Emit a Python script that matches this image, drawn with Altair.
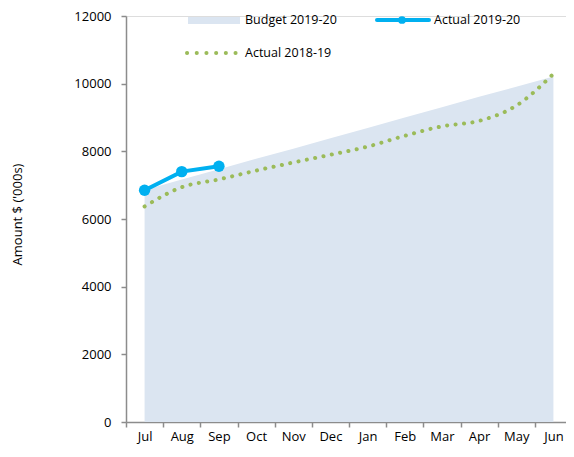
import altair as alt
import pandas as pd

months = ["Jul", "Aug", "Sep", "Oct", "Nov", "Dec", "Jan", "Feb", "Mar", "Apr", "May", "Jun"]
budget_2019_20 = [6860, 7170, 7470, 7780, 8080, 8390, 8690, 9000, 9300, 9610, 9910, 10210]
actual_2018_19 = [6370, 6940, 7170, 7430, 7670, 7900, 8140, 8460, 8740, 8900, 9350, 10290]
actual_2019_20 = [6850, 7400, 7560]
series_names = ["Budget 2019-20", "Actual 2019-20", "Actual 2018-19"]
y_ticks = [0, 2000, 4000, 6000, 8000, 10000, 12000]

FONT = "Open Sans"
W, H = 440, 406
BUDGET_C = "#DBE5F1"
CUR_C = "#00B0F0"
PRIOR_C = "#9BBB59"
AXIS_C = "#8C8C8C"

df = pd.DataFrame({"month": months, "budget": budget_2019_20, "prior": actual_2018_19})
df_cur = pd.DataFrame({"month": months[:len(actual_2019_20)], "actual": actual_2019_20})

x_scale = alt.Scale(type="band", domain=months, range=[0, 446], paddingInner=0, paddingOuter=0)
y_scale = alt.Scale(domain=[0, 12000], nice=False)

axis_common = dict(
    labelFont=FONT, labelFontSize=13, labelColor="#000000",
    domainColor=AXIS_C, domainWidth=1.5, tickColor=AXIS_C, tickWidth=1.5, tickSize=5,
)

x_enc = alt.X(
    "month:N", sort=months, scale=x_scale, bandPosition=0.5,
    axis=alt.Axis(title=None, tickBand="extent", labelAngle=0, labelPadding=3,
                  labelBaseline="top", **axis_common),
)

area = alt.Chart(df).mark_area(color=BUDGET_C, opacity=1).encode(
    x=x_enc,
    y=alt.Y(
        "budget:Q", scale=y_scale,
        axis=alt.Axis(
            values=y_ticks, format="d", grid=False, title="Amount $ ('000s)", labelPadding=10,
            titleAngle=-90, titleX=-109, titleY=198, titleAlign="center",
            titleBaseline="middle", titleFontSize=13, titleFontWeight="normal",
            titleFont=FONT, titleColor="#000000", **axis_common,
        ),
    ),
)

prior = alt.Chart(df).mark_line(
    color=PRIOR_C, strokeWidth=4, strokeDash=[0.1, 8.4], strokeCap="round",
    interpolate="monotone",
).encode(x=x_enc, y=alt.Y("prior:Q", scale=y_scale))

cur_line = alt.Chart(df_cur).mark_line(color=CUR_C, strokeWidth=4).encode(
    x=x_enc, y=alt.Y("actual:Q", scale=y_scale)
)
cur_pts = alt.Chart(df_cur).mark_point(
    filled=True, color=CUR_C, size=130, opacity=1
).encode(x=x_enc, y=alt.Y("actual:Q", scale=y_scale))

one = pd.DataFrame({"k": [0]})
leg_budget_sym = alt.Chart(one).mark_rect(color=BUDGET_C).encode(
    x=alt.value(62), x2=alt.value(114), y=alt.value(1), y2=alt.value(8)
)
leg_cur_line = alt.Chart(one).mark_rule(color=CUR_C, strokeWidth=4, strokeCap="round").encode(
    x=alt.value(251), x2=alt.value(303), y=alt.value(4)
)
leg_cur_pt = alt.Chart(one).mark_point(filled=True, color=CUR_C, size=60, opacity=1).encode(
    x=alt.value(276), y=alt.value(4)
)
leg_prior = alt.Chart(one).mark_rule(
    color=PRIOR_C, strokeWidth=4, strokeDash=[0.1, 9.6], strokeCap="round"
).encode(x=alt.value(61), x2=alt.value(110), y=alt.value(37))

def leg_text(label, px, py):
    return alt.Chart(pd.DataFrame({"t": [label]})).mark_text(
        align="left", baseline="middle", font=FONT, fontSize=12.5, color="#000000"
    ).encode(x=alt.value(px), y=alt.value(py), text="t:N")

chart = alt.layer(
    area, prior, cur_line, cur_pts,
    leg_budget_sym, leg_cur_line, leg_cur_pt, leg_prior,
    leg_text(series_names[0], 119, 4),
    leg_text(series_names[1], 308, 4),
    leg_text(series_names[2], 119, 37),
).properties(
    width=W, height=H,
    autosize=alt.AutoSizeParams(type="none"),
    padding={"left": 118, "top": 8, "right": 0, "bottom": 24},
).configure_view(
    strokeWidth=0
).configure(background="white")

chart.save("out.html", embed_options={"renderer": "svg", "actions": False})
